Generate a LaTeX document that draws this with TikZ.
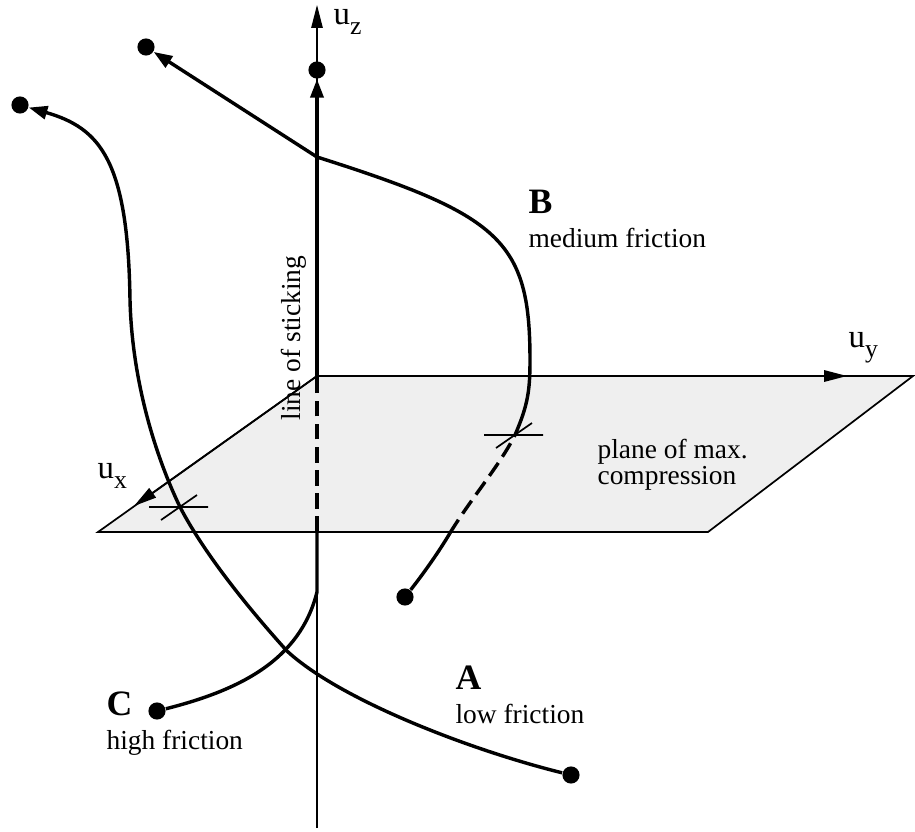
\documentclass[tikz,border=0pt]{standalone}
\usepackage{fontspec}
\setmainfont{Liberation Serif}
\usetikzlibrary{arrows.meta}
\definecolor{planegray}{RGB}{239,239,239}

\tikzset{
  axisline/.style={line width=0.4pt, -{Triangle[length=8pt,width=4pt]}},
  planeline/.style={line width=0.6pt},
  traj/.style={line width=1.2pt},
  hiddentraj/.style={traj, dash pattern=on 5.5pt off 2.6pt},
  arrowend/.style={-{Triangle[length=6.5pt,width=4.6pt]}},
  endpoint/.style={circle, fill=black, inner sep=0pt, minimum size=6pt},
  casename/.style={font=\fontsize{12.5}{14}\selectfont\bfseries, inner sep=0pt},
  casenote/.style={font=\fontsize{9.6}{9.2}\selectfont, inner sep=0pt},
  axlabel/.style={font=\fontsize{11.5}{12}\selectfont, inner sep=0pt}
}
\newcommand{\axname}[1]{u\raisebox{-3.5pt}{\fontsize{9}{9}\selectfont #1}}

\begin{document}
\begin{tikzpicture}[x=0.35pt, y=-0.35pt]
\useasboundingbox (0,0) rectangle (915,831);

% axes and plane of max. compression
\coordinate (O) at (317,376);
\coordinate (zbot) at (317,828);
\coordinate (ztip) at (317,5);
\coordinate (ytip) at (847,376);
\coordinate (xtip) at (134,506);
\coordinate (pr) at (913,376);
\coordinate (pf) at (708,532);
\coordinate (pl) at (98,532);
\draw[axisline] (zbot) -- (ztip);
\filldraw[planeline, fill=planegray] (O) -- (pr) -- (pf) -- (pl) -- cycle;
\draw[axisline, line width=0.6pt] (O) -- (ytip);
\draw[axisline, line width=0.6pt] (O) -- (xtip);

% crossings with the plane
\coordinate (tA) at (180,507);
\coordinate (tB) at (515,435);
\foreach \t in {tA, tB}
  \draw[planeline] (\t) +(-31,0) -- +(28,0) (\t) +(-19,13) -- +(17,-12);

% end points
\node[endpoint] (Abot) at (571,775) {};
\node[endpoint] (Atop) at (20,105) {};
\node[endpoint] (Bbot) at (405,597) {};
\node[endpoint] (Btop) at (146,47) {};
\node[endpoint] (Cbot) at (157,711) {};
\node[endpoint] (Ctop) at (317,70) {};

% A: low friction
\draw[traj, arrowend] (Abot) .. controls (470,750) and (340,700) .. (287,651)
  .. controls (250,610) and (205,555) .. (tA)
  .. controls (155,455) and (132,380) .. (130,300)
  .. controls (128,160) and (100,128) .. (Atop);

% B: medium friction
\coordinate (Bin) at (450,533);
\coordinate (Bk) at (317,157);
\draw[traj] (Bbot) .. controls (420,578) and (437,555) .. (Bin);
\draw[hiddentraj] (Bin) .. controls (470,500) and (500,465) .. (tB);
\draw[traj] (tB) .. controls (528,405) and (530,390) .. (530,360)
  .. controls (530,240) and (500,215) .. (Bk);
\draw[traj, arrowend] (Bk) -- (Btop);

% C: high friction, along the line of sticking
\coordinate (Cj) at (317,592);
\coordinate (Cf) at (317,532);
\draw[traj] (Cbot) .. controls (240,690) and (300,660) .. (Cj) -- (Cf);
\draw[hiddentraj] (Cf) -- (O);
\draw[traj, arrowend] (O) -- (Ctop);

% labels
\node[axlabel, anchor=base west] (lz) at (333,24) {\axname{z}};
\node[axlabel, anchor=base west] (ly) at (848,347) {\axname{y}};
\node[axlabel, anchor=base west] (lx) at (97,478) {\axname{x}};
\node[casenote, rotate=90] (stick) at (294,338) {line of sticking};
\node[casenote, align=left, anchor=west] (plane) at (597,465) {plane of max.\\compression};
\foreach \n/\t/\x/\y in {A/{low friction}/455/689, B/{medium friction}/528/213, C/{high friction}/106/715} {
  \node[casename, anchor=base west] (lbl\n) at (\x,\y) {\n};
  \node[casenote, anchor=base west] (txt\n) at (\x,\y+34) {\t};
}
\end{tikzpicture}
\end{document}
